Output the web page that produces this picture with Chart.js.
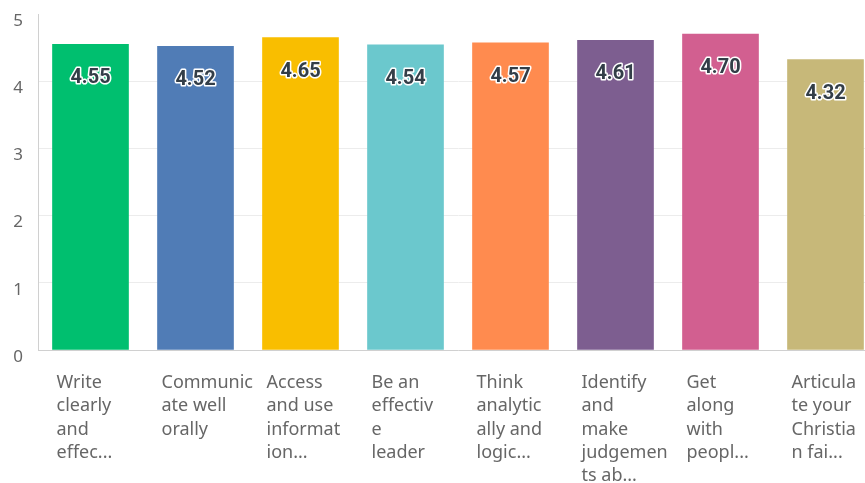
<!DOCTYPE html>
<html>
<head>
<meta charset="utf-8">
<script src="https://cdn.jsdelivr.net/npm/chart.js@4/dist/chart.umd.min.js"></script>
<style>
    body { margin: 0; overflow: hidden; background: #fff; }
    #wrap { width: 878px; height: 483px; }
</style>
</head>
<body>
<div id="wrap"><canvas id="skillChart" width="878" height="483"></canvas></div>
<script>
// chart data
const categories = [
    ["Write", "clearly", "and", "effec..."],
    ["Communic", "ate well", "orally"],
    ["Access", "and use", "informat", "ion..."],
    ["Be an", "effectiv", "e", "leader"],
    ["Think", "analytic", "ally and", "logic..."],
    ["Identify", "and", "make", "judgemen", "ts ab..."],
    ["Get", "along", "with", "peopl..."],
    ["Articula", "te your", "Christia", "n fai..."]
];
const scores = [4.55, 4.52, 4.65, 4.54, 4.57, 4.61, 4.70, 4.32];
const yTicks = [0, 1, 2, 3, 4, 5];
const barColors = ["#00bf6f", "#507cb6", "#f9be00", "#6bc8cd", "#ff8b4f", "#7d5e90", "#d25f90", "#c7b879"];

// value labels inside the top of each bar
const valueLabels = {
    id: "valueLabels",
    afterDatasetsDraw(chart) {
        const ctx = chart.ctx;
        const meta = chart.getDatasetMeta(0);
        ctx.save();
        ctx.font = "bold 20px Roboto";
        ctx.textAlign = "center";
        ctx.textBaseline = "middle";
        ctx.lineJoin = "round";
        meta.data.forEach((bar, i) => {
            const text = scores[i].toFixed(2);
            ctx.lineWidth = 3;
            ctx.strokeStyle = "#ffffff";
            ctx.strokeText(text, bar.x, bar.y + 34);
            ctx.fillStyle = "#333e48";
            ctx.fillText(text, bar.x, bar.y + 34);
        });
        ctx.restore();
    }
};

const ctx = document.getElementById("skillChart").getContext("2d");
const chart = new Chart(ctx, {
    type: "bar",
    data: {
        labels: categories,
        datasets: [{
            data: scores,
            backgroundColor: barColors,
            borderWidth: 0,
            barThickness: 76
        }]
    },
    options: {
        responsive: false,
        animation: false,
        layout: { padding: { top: 14, right: 0, left: 0, bottom: 0 } },
        plugins: {
            legend: { display: false },
            tooltip: { enabled: false }
        },
        scales: {
            x: {
                grid: { display: false, drawTicks: false },
                border: { color: "#d0d0d0", width: 1 },
                ticks: {
                    autoSkip: false,
                    maxRotation: 0,
                    align: "start",
                    labelOffset: -34,
                    padding: 21,
                    color: "#666666",
                    font: { family: "Noto Sans", size: 18, lineHeight: 1.3 }
                },
                afterFit(scale) {
                    scale.height = 133;
                    scale.paddingLeft = 0;
                    scale.paddingRight = 0;
                }
            },
            y: {
                min: 0,
                max: 5,
                afterBuildTicks(scale) { scale.ticks = yTicks.map(v => ({ value: v })); },
                grid: {
                    drawTicks: false,
                    color: c => (c.tick && c.tick.value === 5) ? "rgba(0,0,0,0)" : "#ececec"
                },
                border: { color: "#d0d0d0", width: 1 },
                ticks: {
                    padding: 15,
                    labelOffset: 7,
                    color: "#666666",
                    font: { family: "Noto Sans", size: 17 }
                },
                afterFit(scale) {
                    scale.width = 38;
                    scale.paddingTop = 0;
                    scale.paddingBottom = 0;
                }
            }
        }
    },
    plugins: [valueLabels]
});
</script>
</body>
</html>
